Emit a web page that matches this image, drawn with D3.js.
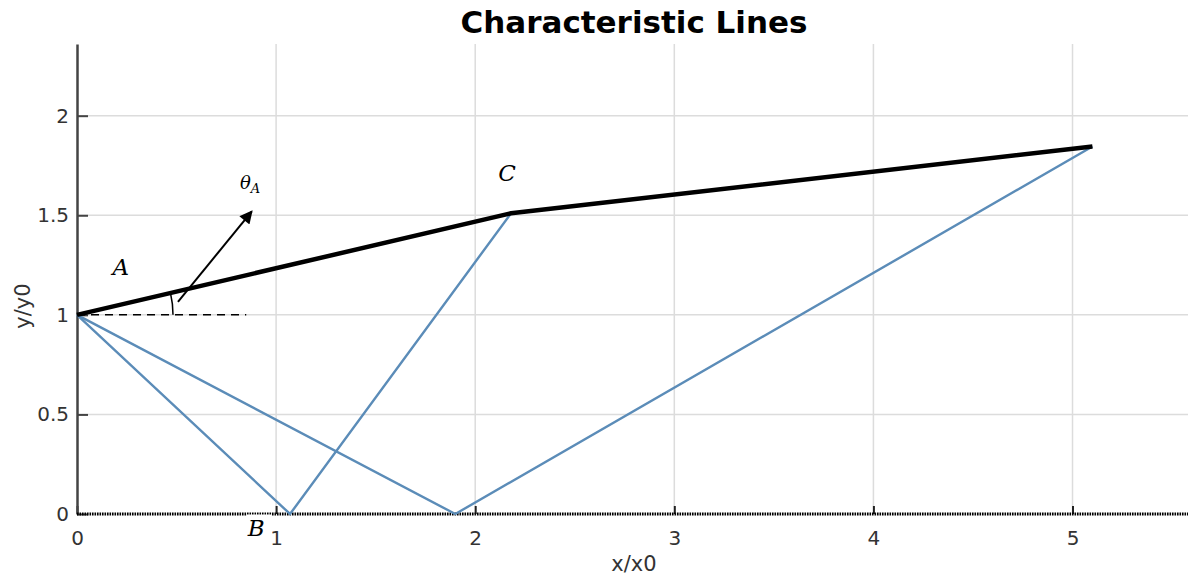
<!DOCTYPE html>
<html>
<head>
<meta charset="utf-8">
<script src="https://cdn.jsdelivr.net/npm/d3@7"></script>
<style>
  body { margin: 0; background: #fff; }
  svg { display: block; }
  .tick text { font-family: "DejaVu Sans", Verdana, sans-serif; font-size: 20px; fill: #333; }
</style>
</head>
<body>
<div id="chart"></div>
<script>
// Characteristic lines chart

// data
var boundaryX = [0, 2.18, 5.1];
var boundaryY = [1, 1.51, 1.845];
var charOneX = [0, 1.07, 2.18];
var charOneY = [1, 0, 1.51];
var charTwoX = [0, 1.9, 5.1];
var charTwoY = [1, 0, 1.845];
var refLineX = [0, 0.85];
var refLineY = [1, 1];
var arrowX = [0.507, 0.878];
var arrowY = [1.065, 1.52];
var xTicks = [0, 1, 2, 3, 4, 5];
var yTicks = [0, 0.5, 1, 1.5, 2];
var pointLabels = ["A", "B", "C"];
var labelX = [0.22, 0.9, 2.16];
var labelY = [1.2, -0.11, 1.67];

var svgWidth = 1188;
var svgHeight = 579;

var svg = d3.select("#chart")
    .append("svg")
    .attr("width", svgWidth)
    .attr("height", svgHeight);

var x = d3.scaleLinear().domain([0, 5.58]).range([77, 1188]);
var y = d3.scaleLinear().domain([0, 2.36]).range([514, 44]);

function zip(xs, ys) {
    return xs.map((v, i) => [v, ys[i]]);
}
var line = d3.line().x(d => x(d[0])).y(d => y(d[1]));

// grid
svg.append("g").selectAll("line")
    .data(xTicks.filter(d => d > 0))
    .enter().append("line")
    .attr("x1", d => x(d)).attr("x2", d => x(d))
    .attr("y1", y(2.36)).attr("y2", y(0))
    .attr("stroke", "#dcdcdc").attr("stroke-width", 1.5);
svg.append("g").selectAll("line")
    .data(yTicks.filter(d => d > 0))
    .enter().append("line")
    .attr("x1", x(0)).attr("x2", svgWidth)
    .attr("y1", d => y(d)).attr("y2", d => y(d))
    .attr("stroke", "#dcdcdc").attr("stroke-width", 1.5);

// title
svg.append("text")
    .attr("x", 634).attr("y", 33)
    .attr("text-anchor", "middle")
    .style("font-family", "'DejaVu Sans', Verdana, sans-serif")
    .style("font-weight", "bold")
    .style("font-size", "31px")
    .text("Characteristic Lines");

// axes
var xAxis = svg.append("g")
    .attr("transform", `translate(0, ${y(0)})`)
    .call(d3.axisBottom(x).tickValues(xTicks).tickSize(-8).tickSizeOuter(0).tickPadding(17).tickFormat(d3.format("d")));
xAxis.select(".domain").remove();
xAxis.selectAll(".tick line").attr("stroke", "#222").attr("stroke-width", 2);

var yAxis = svg.append("g")
    .attr("transform", `translate(${x(0)}, 0)`)
    .call(d3.axisLeft(y).tickValues(yTicks).tickSize(-11).tickSizeOuter(0).tickPadding(8).tickFormat(d => d));
yAxis.select(".domain").attr("stroke", "#444").attr("stroke-width", 2.5);
yAxis.selectAll(".tick line").attr("stroke", "#444").attr("stroke-width", 2);

// dotted bottom line
svg.append("line")
    .attr("x1", x(0)).attr("x2", svgWidth)
    .attr("y1", y(0)).attr("y2", y(0))
    .attr("stroke", "#000").attr("stroke-width", 3)
    .attr("stroke-dasharray", "1.6,0.9");

svg.append("text")
    .attr("x", 634).attr("y", 571)
    .attr("text-anchor", "middle")
    .style("font-family", "'DejaVu Sans', Verdana, sans-serif")
    .style("font-size", "21px").style("fill", "#333")
    .text("x/x0");

svg.append("text")
    .attr("transform", "translate(30, 306) rotate(-90)")
    .attr("text-anchor", "middle")
    .style("font-family", "'DejaVu Sans', Verdana, sans-serif")
    .style("font-size", "21px").style("fill", "#333")
    .text("y/y0");

// characteristic lines
[zip(charOneX, charOneY), zip(charTwoX, charTwoY)].forEach(function(pts) {
    svg.append("path")
        .attr("d", line(pts))
        .attr("fill", "none")
        .attr("stroke", "#5b8cb8")
        .attr("stroke-width", 2.4);
});

// boundary
svg.append("path")
    .attr("d", line(zip(boundaryX, boundaryY)))
    .attr("fill", "none")
    .attr("stroke", "#000")
    .attr("stroke-width", 4.5)
    .attr("stroke-linejoin", "round");

// horizontal reference
svg.append("path")
    .attr("d", line(zip(refLineX, refLineY)))
    .attr("stroke", "#000").attr("stroke-width", 1.5)
    .attr("stroke-dasharray", "8,6");

// angle arc
var cx = x(0), cy = y(1);
var ang = Math.atan2(y(boundaryY[1]) - cy, x(boundaryX[1]) - cx);
var r = 96;
svg.append("path")
    .attr("d", `M${cx + r},${cy} A${r},${r} 0 0 0 ${cx + r * Math.cos(ang)},${cy + r * Math.sin(ang)}`)
    .attr("fill", "none").attr("stroke", "#000").attr("stroke-width", 1.5);

// arrow
svg.append("defs").append("marker")
    .attr("id", "head")
    .attr("viewBox", "0 0 10 10")
    .attr("refX", 9).attr("refY", 5)
    .attr("markerWidth", 15).attr("markerHeight", 13)
    .attr("markerUnits", "userSpaceOnUse")
    .attr("orient", "auto")
    .append("path").attr("d", "M0,0 L10,5 L0,10 Z").attr("fill", "#000");
svg.append("line")
    .attr("x1", x(arrowX[0])).attr("y1", y(arrowY[0]))
    .attr("x2", x(arrowX[1])).attr("y2", y(arrowY[1]))
    .attr("stroke", "#000").attr("stroke-width", 2)
    .attr("marker-end", "url(#head)");

var theta = svg.append("text")
    .attr("x", 240).attr("y", 189)
    .style("font-family", "'DejaVu Serif', serif")
    .style("font-style", "italic")
    .style("font-size", "18px");
theta.append("tspan").text("θ");
theta.append("tspan").attr("dy", 4).style("font-size", "13px").text("A");

// B background box
svg.append("rect")
    .attr("x", 247).attr("y", y(0) + 0.5)
    .attr("width", 25).attr("height", 34)
    .attr("fill", "#fff");

svg.selectAll(".ptlabel")
    .data(pointLabels)
    .enter().append("text")
    .attr("class", "ptlabel")
    .attr("x", (d, i) => x(labelX[i]))
    .attr("y", (d, i) => y(labelY[i]))
    .attr("text-anchor", "middle")
    .style("font-family", "'DejaVu Serif', serif")
    .style("font-style", "italic")
    .style("font-size", "23px")
    .text(d => d);
</script>
</body>
</html>
